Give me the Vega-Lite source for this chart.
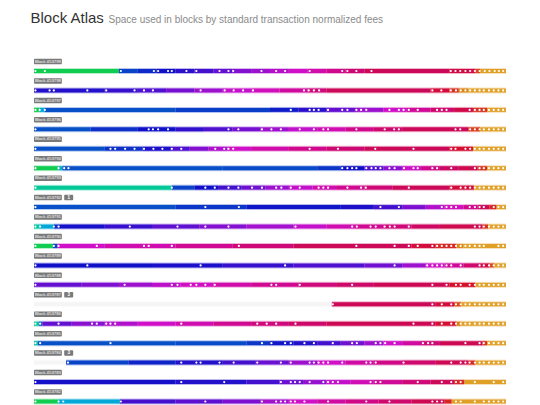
{
"$schema": "https://vega.github.io/schema/vega-lite/v6.json",
"width": 540, "height": 405, "autosize": "none", "padding": 0,
"background": "white",
"config": {"view": {"stroke": null}, "axis": {"labels": false, "ticks": false, "domain": false, "grid": false}},
"datasets": {
"labels": [
{"b":453799,"t":"Block 453799"},{"b":453798,"t":"Block 453798"},{"b":453797,"t":"Block 453797"},{"b":453796,"t":"Block 453796"},{"b":453795,"t":"Block 453795"},{"b":453794,"t":"Block 453794"},{"b":453793,"t":"Block 453793"},{"b":453792,"t":"Block 453792"},{"b":453791,"t":"Block 453791"},{"b":453790,"t":"Block 453790"},{"b":453789,"t":"Block 453789"},{"b":453788,"t":"Block 453788"},{"b":453787,"t":"Block 453787"},{"b":453786,"t":"Block 453786"},{"b":453785,"t":"Block 453785"},{"b":453784,"t":"Block 453784"},{"b":453783,"t":"Block 453783"},{"b":453782,"t":"Block 453782"}],
"badges": [{"b":453792,"k":"1"},{"b":453787,"k":"3"},{"b":453784,"k":"3"}],
"segs": [
{"b":453799,"x":0,"x2":180,"f":0},{"b":453799,"x":180,"x2":220,"f":3.2},{"b":453799,"x":220,"x2":260,"f":3.6},{"b":453799,"x":260,"x2":300,"f":4.0},{"b":453799,"x":300,"x2":340,"f":4.4},{"b":453799,"x":340,"x2":380,"f":4.8},{"b":453799,"x":380,"x2":420,"f":5.3},{"b":453799,"x":420,"x2":460,"f":5.8},{"b":453799,"x":460,"x2":500,"f":6.2},{"b":453799,"x":500,"x2":540,"f":6.6},{"b":453799,"x":540,"x2":580,"f":7.0},{"b":453799,"x":580,"x2":620,"f":7.5},{"b":453799,"x":620,"x2":660,"f":8.0},{"b":453799,"x":660,"x2":700,"f":8.5},{"b":453799,"x":700,"x2":880,"f":9.0},{"b":453799,"x":880,"x2":935,"f":9.4},{"b":453799,"x":935,"x2":945,"f":10.5},{"b":453799,"x":945,"x2":1000,"f":12},
{"b":453798,"x":0,"x2":150,"f":4.3},{"b":453798,"x":150,"x2":220,"f":4.6},{"b":453798,"x":220,"x2":280,"f":5.0},{"b":453798,"x":280,"x2":340,"f":5.6},{"b":453798,"x":340,"x2":400,"f":6.2},{"b":453798,"x":400,"x2":460,"f":6.8},{"b":453798,"x":460,"x2":520,"f":7.2},{"b":453798,"x":520,"x2":580,"f":7.7},{"b":453798,"x":580,"x2":620,"f":8.3},{"b":453798,"x":620,"x2":840,"f":9.0},{"b":453798,"x":840,"x2":880,"f":9.6},{"b":453798,"x":880,"x2":900,"f":10.3},{"b":453798,"x":900,"x2":920,"f":11.2},{"b":453798,"x":920,"x2":1000,"f":12},
{"b":453797,"x":0,"x2":12,"f":0},{"b":453797,"x":12,"x2":23,"f":2},{"b":453797,"x":23,"x2":300,"f":3.0},{"b":453797,"x":300,"x2":500,"f":3.3},{"b":453797,"x":500,"x2":560,"f":3.8},{"b":453797,"x":560,"x2":620,"f":4.4},{"b":453797,"x":620,"x2":680,"f":5.3},{"b":453797,"x":680,"x2":740,"f":6.2},{"b":453797,"x":740,"x2":790,"f":7.0},{"b":453797,"x":790,"x2":840,"f":7.8},{"b":453797,"x":840,"x2":890,"f":8.6},{"b":453797,"x":890,"x2":930,"f":9.3},{"b":453797,"x":930,"x2":960,"f":10.3},{"b":453797,"x":960,"x2":1000,"f":12},
{"b":453796,"x":0,"x2":120,"f":3.0},{"b":453796,"x":120,"x2":220,"f":3.5},{"b":453796,"x":220,"x2":300,"f":4.0},{"b":453796,"x":300,"x2":360,"f":4.5},{"b":453796,"x":360,"x2":420,"f":5.0},{"b":453796,"x":420,"x2":480,"f":5.6},{"b":453796,"x":480,"x2":540,"f":6.2},{"b":453796,"x":540,"x2":600,"f":6.8},{"b":453796,"x":600,"x2":660,"f":7.4},{"b":453796,"x":660,"x2":720,"f":8.0},{"b":453796,"x":720,"x2":780,"f":8.6},{"b":453796,"x":780,"x2":920,"f":9.0},{"b":453796,"x":920,"x2":945,"f":10.4},{"b":453796,"x":945,"x2":1000,"f":12},
{"b":453795,"x":0,"x2":150,"f":3.0},{"b":453795,"x":150,"x2":230,"f":3.5},{"b":453795,"x":230,"x2":290,"f":4.2},{"b":453795,"x":290,"x2":330,"f":5.0},{"b":453795,"x":330,"x2":370,"f":5.8},{"b":453795,"x":370,"x2":410,"f":6.5},{"b":453795,"x":410,"x2":460,"f":7.0},{"b":453795,"x":460,"x2":540,"f":7.5},{"b":453795,"x":540,"x2":620,"f":8.0},{"b":453795,"x":620,"x2":700,"f":8.5},{"b":453795,"x":700,"x2":880,"f":9.0},{"b":453795,"x":880,"x2":930,"f":9.8},{"b":453795,"x":930,"x2":1000,"f":12},
{"b":453794,"x":0,"x2":52,"f":0},{"b":453794,"x":52,"x2":60,"f":1.8},{"b":453794,"x":60,"x2":400,"f":3.0},{"b":453794,"x":400,"x2":600,"f":3.1},{"b":453794,"x":600,"x2":650,"f":3.4},{"b":453794,"x":650,"x2":700,"f":4.0},{"b":453794,"x":700,"x2":740,"f":5.0},{"b":453794,"x":740,"x2":780,"f":6.0},{"b":453794,"x":780,"x2":820,"f":7.0},{"b":453794,"x":820,"x2":860,"f":8.0},{"b":453794,"x":860,"x2":900,"f":8.8},{"b":453794,"x":900,"x2":940,"f":9.2},{"b":453794,"x":940,"x2":960,"f":10.3},{"b":453794,"x":960,"x2":1000,"f":12},
{"b":453793,"x":0,"x2":292,"f":0.9},{"b":453793,"x":292,"x2":340,"f":3.2},{"b":453793,"x":340,"x2":390,"f":4.0},{"b":453793,"x":390,"x2":440,"f":4.8},{"b":453793,"x":440,"x2":490,"f":5.5},{"b":453793,"x":490,"x2":540,"f":6.2},{"b":453793,"x":540,"x2":590,"f":6.8},{"b":453793,"x":590,"x2":640,"f":7.4},{"b":453793,"x":640,"x2":700,"f":7.9},{"b":453793,"x":700,"x2":760,"f":8.4},{"b":453793,"x":760,"x2":880,"f":9.0},{"b":453793,"x":880,"x2":932,"f":9.6},{"b":453793,"x":932,"x2":1000,"f":12},
{"b":453792,"x":0,"x2":300,"f":3.0},{"b":453792,"x":300,"x2":450,"f":3.4},{"b":453792,"x":450,"x2":650,"f":3.9},{"b":453792,"x":650,"x2":720,"f":4.2},{"b":453792,"x":720,"x2":780,"f":4.8},{"b":453792,"x":780,"x2":830,"f":5.7},{"b":453792,"x":830,"x2":870,"f":6.5},{"b":453792,"x":870,"x2":910,"f":7.2},{"b":453792,"x":910,"x2":940,"f":8.0},{"b":453792,"x":940,"x2":965,"f":9.0},{"b":453792,"x":965,"x2":980,"f":10.2},{"b":453792,"x":980,"x2":1000,"f":12},
{"b":453791,"x":0,"x2":12,"f":1},{"b":453791,"x":12,"x2":42,"f":2},{"b":453791,"x":42,"x2":55,"f":3.5},{"b":453791,"x":55,"x2":150,"f":4.1},{"b":453791,"x":150,"x2":250,"f":4.6},{"b":453791,"x":250,"x2":350,"f":5.2},{"b":453791,"x":350,"x2":450,"f":5.8},{"b":453791,"x":450,"x2":550,"f":6.3},{"b":453791,"x":550,"x2":620,"f":6.8},{"b":453791,"x":620,"x2":680,"f":7.4},{"b":453791,"x":680,"x2":740,"f":7.9},{"b":453791,"x":740,"x2":800,"f":8.3},{"b":453791,"x":800,"x2":860,"f":8.8},{"b":453791,"x":860,"x2":950,"f":9.2},{"b":453791,"x":950,"x2":962,"f":10.3},{"b":453791,"x":962,"x2":1000,"f":12},
{"b":453790,"x":0,"x2":40,"f":0},{"b":453790,"x":40,"x2":50,"f":3.2},{"b":453790,"x":50,"x2":150,"f":7.0},{"b":453790,"x":150,"x2":300,"f":7.4},{"b":453790,"x":300,"x2":420,"f":7.9},{"b":453790,"x":420,"x2":550,"f":8.4},{"b":453790,"x":550,"x2":800,"f":9.0},{"b":453790,"x":800,"x2":850,"f":9.6},{"b":453790,"x":850,"x2":895,"f":10.2},{"b":453790,"x":895,"x2":910,"f":11.2},{"b":453790,"x":910,"x2":1000,"f":12},
{"b":453789,"x":0,"x2":250,"f":4.0},{"b":453789,"x":250,"x2":400,"f":4.2},{"b":453789,"x":400,"x2":550,"f":4.6},{"b":453789,"x":550,"x2":700,"f":5.0},{"b":453789,"x":700,"x2":780,"f":5.5},{"b":453789,"x":780,"x2":830,"f":6.2},{"b":453789,"x":830,"x2":870,"f":7.0},{"b":453789,"x":870,"x2":910,"f":7.8},{"b":453789,"x":910,"x2":945,"f":8.6},{"b":453789,"x":945,"x2":965,"f":9.4},{"b":453789,"x":965,"x2":975,"f":10.5},{"b":453789,"x":975,"x2":1000,"f":12},
{"b":453788,"x":0,"x2":100,"f":5.3},{"b":453788,"x":100,"x2":180,"f":5.7},{"b":453788,"x":180,"x2":250,"f":6.2},{"b":453788,"x":250,"x2":310,"f":6.7},{"b":453788,"x":310,"x2":380,"f":7.1},{"b":453788,"x":380,"x2":460,"f":7.5},{"b":453788,"x":460,"x2":560,"f":7.9},{"b":453788,"x":560,"x2":640,"f":8.3},{"b":453788,"x":640,"x2":720,"f":8.7},{"b":453788,"x":720,"x2":880,"f":9.1},{"b":453788,"x":880,"x2":935,"f":10.0},{"b":453788,"x":935,"x2":1000,"f":12},
{"b":453787,"x":0,"x2":631,"f":-1},{"b":453787,"x":631,"x2":850,"f":9.0},{"b":453787,"x":850,"x2":890,"f":9.6},{"b":453787,"x":890,"x2":905,"f":10.5},{"b":453787,"x":905,"x2":1000,"f":12},
{"b":453786,"x":0,"x2":10,"f":0.8},{"b":453786,"x":10,"x2":18,"f":3},{"b":453786,"x":18,"x2":80,"f":5.3},{"b":453786,"x":80,"x2":150,"f":5.9},{"b":453786,"x":150,"x2":220,"f":6.5},{"b":453786,"x":220,"x2":300,"f":7.0},{"b":453786,"x":300,"x2":380,"f":7.4},{"b":453786,"x":380,"x2":460,"f":7.9},{"b":453786,"x":460,"x2":540,"f":8.3},{"b":453786,"x":540,"x2":620,"f":8.7},{"b":453786,"x":620,"x2":850,"f":9.1},{"b":453786,"x":850,"x2":895,"f":9.8},{"b":453786,"x":895,"x2":905,"f":11},{"b":453786,"x":905,"x2":1000,"f":12},
{"b":453785,"x":0,"x2":8,"f":1},{"b":453785,"x":8,"x2":300,"f":3.0},{"b":453785,"x":300,"x2":450,"f":3.1},{"b":453785,"x":450,"x2":500,"f":3.4},{"b":453785,"x":500,"x2":550,"f":3.9},{"b":453785,"x":550,"x2":600,"f":4.3},{"b":453785,"x":600,"x2":650,"f":4.8},{"b":453785,"x":650,"x2":700,"f":5.5},{"b":453785,"x":700,"x2":740,"f":6.2},{"b":453785,"x":740,"x2":780,"f":7.0},{"b":453785,"x":780,"x2":820,"f":7.7},{"b":453785,"x":820,"x2":860,"f":8.4},{"b":453785,"x":860,"x2":950,"f":9.1},{"b":453785,"x":950,"x2":960,"f":10.3},{"b":453785,"x":960,"x2":1000,"f":12},
{"b":453784,"x":0,"x2":68,"f":-1},{"b":453784,"x":68,"x2":200,"f":3.2},{"b":453784,"x":200,"x2":300,"f":3.7},{"b":453784,"x":300,"x2":400,"f":4.3},{"b":453784,"x":400,"x2":470,"f":4.8},{"b":453784,"x":470,"x2":540,"f":5.4},{"b":453784,"x":540,"x2":600,"f":6.2},{"b":453784,"x":600,"x2":660,"f":7.0},{"b":453784,"x":660,"x2":720,"f":7.6},{"b":453784,"x":720,"x2":780,"f":8.1},{"b":453784,"x":780,"x2":850,"f":8.6},{"b":453784,"x":850,"x2":920,"f":9.1},{"b":453784,"x":920,"x2":935,"f":10.2},{"b":453784,"x":935,"x2":1000,"f":12},
{"b":453783,"x":0,"x2":300,"f":4.1},{"b":453783,"x":300,"x2":450,"f":4.3},{"b":453783,"x":450,"x2":520,"f":4.8},{"b":453783,"x":520,"x2":570,"f":5.4},{"b":453783,"x":570,"x2":620,"f":6.1},{"b":453783,"x":620,"x2":670,"f":6.8},{"b":453783,"x":670,"x2":720,"f":7.3},{"b":453783,"x":720,"x2":780,"f":7.8},{"b":453783,"x":780,"x2":840,"f":8.4},{"b":453783,"x":840,"x2":890,"f":9.0},{"b":453783,"x":890,"x2":912,"f":10.2},{"b":453783,"x":912,"x2":1000,"f":12},
{"b":453782,"x":0,"x2":52,"f":0},{"b":453782,"x":52,"x2":182,"f":2},{"b":453782,"x":182,"x2":300,"f":4.8},{"b":453782,"x":300,"x2":400,"f":5.2},{"b":453782,"x":400,"x2":480,"f":5.7},{"b":453782,"x":480,"x2":540,"f":6.3},{"b":453782,"x":540,"x2":600,"f":7.0},{"b":453782,"x":600,"x2":660,"f":7.6},{"b":453782,"x":660,"x2":730,"f":8.1},{"b":453782,"x":730,"x2":800,"f":8.6},{"b":453782,"x":800,"x2":870,"f":9.1},{"b":453782,"x":870,"x2":885,"f":10.2},{"b":453782,"x":885,"x2":1000,"f":12}
],
"dots": [
{"b":453799,"x":3},{"b":453799,"x":23},{"b":453799,"x":184},{"b":453799,"x":254},{"b":453799,"x":263},{"b":453799,"x":284},{"b":453799,"x":292},{"b":453799,"x":323},{"b":453799,"x":344},{"b":453799,"x":393},{"b":453799,"x":412},{"b":453799,"x":422},{"b":453799,"x":482},{"b":453799,"x":513},{"b":453799,"x":532},{"b":453799,"x":584},{"b":453799,"x":653},{"b":453799,"x":664},{"b":453799,"x":683},{"b":453799,"x":715},{"b":453799,"x":883},{"b":453799,"x":893},{"b":453799,"x":903},{"b":453799,"x":914},{"b":453799,"x":924},{"b":453799,"x":934},{"b":453799,"x":944},{"b":453799,"x":955},{"b":453799,"x":965},{"b":453799,"x":976},{"b":453799,"x":985},{"b":453799,"x":994},
{"b":453798,"x":3},{"b":453798,"x":33},{"b":453798,"x":42},{"b":453798,"x":113},{"b":453798,"x":153},{"b":453798,"x":213},{"b":453798,"x":233},{"b":453798,"x":252},{"b":453798,"x":353},{"b":453798,"x":404},{"b":453798,"x":423},{"b":453798,"x":443},{"b":453798,"x":464},{"b":453798,"x":572},{"b":453798,"x":582},{"b":453798,"x":593},{"b":453798,"x":604},{"b":453798,"x":844},{"b":453798,"x":863},{"b":453798,"x":883},{"b":453798,"x":894},{"b":453798,"x":904},{"b":453798,"x":914},{"b":453798,"x":924},{"b":453798,"x":934},{"b":453798,"x":944},{"b":453798,"x":953},{"b":453798,"x":964},{"b":453798,"x":974},{"b":453798,"x":984},{"b":453798,"x":994},
{"b":453797,"x":3},{"b":453797,"x":12},{"b":453797,"x":23},{"b":453797,"x":544},{"b":453797,"x":584},{"b":453797,"x":593},{"b":453797,"x":603},{"b":453797,"x":623},{"b":453797,"x":653},{"b":453797,"x":664},{"b":453797,"x":683},{"b":453797,"x":693},{"b":453797,"x":704},{"b":453797,"x":753},{"b":453797,"x":773},{"b":453797,"x":783},{"b":453797,"x":794},{"b":453797,"x":813},{"b":453797,"x":854},{"b":453797,"x":864},{"b":453797,"x":874},{"b":453797,"x":923},{"b":453797,"x":934},{"b":453797,"x":944},{"b":453797,"x":953},{"b":453797,"x":964},{"b":453797,"x":974},{"b":453797,"x":984},{"b":453797,"x":994},
{"b":453796,"x":3},{"b":453796,"x":243},{"b":453796,"x":252},{"b":453796,"x":263},{"b":453796,"x":284},{"b":453796,"x":412},{"b":453796,"x":433},{"b":453796,"x":483},{"b":453796,"x":503},{"b":453796,"x":523},{"b":453796,"x":563},{"b":453796,"x":593},{"b":453796,"x":613},{"b":453796,"x":623},{"b":453796,"x":683},{"b":453796,"x":743},{"b":453796,"x":763},{"b":453796,"x":773},{"b":453796,"x":893},{"b":453796,"x":903},{"b":453796,"x":924},{"b":453796,"x":934},{"b":453796,"x":944},{"b":453796,"x":953},{"b":453796,"x":964},{"b":453796,"x":974},{"b":453796,"x":984},{"b":453796,"x":994},
{"b":453795,"x":3},{"b":453795,"x":162},{"b":453795,"x":172},{"b":453795,"x":193},{"b":453795,"x":213},{"b":453795,"x":233},{"b":453795,"x":253},{"b":453795,"x":272},{"b":453795,"x":292},{"b":453795,"x":312},{"b":453795,"x":384},{"b":453795,"x":403},{"b":453795,"x":412},{"b":453795,"x":422},{"b":453795,"x":584},{"b":453795,"x":644},{"b":453795,"x":723},{"b":453795,"x":804},{"b":453795,"x":884},{"b":453795,"x":893},{"b":453795,"x":914},{"b":453795,"x":924},{"b":453795,"x":934},{"b":453795,"x":944},{"b":453795,"x":953},{"b":453795,"x":964},{"b":453795,"x":974},{"b":453795,"x":984},{"b":453795,"x":994},
{"b":453794,"x":3},{"b":453794,"x":52},{"b":453794,"x":64},{"b":453794,"x":73},{"b":453794,"x":653},{"b":453794,"x":664},{"b":453794,"x":674},{"b":453794,"x":683},{"b":453794,"x":704},{"b":453794,"x":715},{"b":453794,"x":724},{"b":453794,"x":734},{"b":453794,"x":753},{"b":453794,"x":764},{"b":453794,"x":784},{"b":453794,"x":804},{"b":453794,"x":813},{"b":453794,"x":844},{"b":453794,"x":854},{"b":453794,"x":884},{"b":453794,"x":934},{"b":453794,"x":944},{"b":453794,"x":953},{"b":453794,"x":964},{"b":453794,"x":974},{"b":453794,"x":984},{"b":453794,"x":994},
{"b":453793,"x":3},{"b":453793,"x":292},{"b":453793,"x":363},{"b":453793,"x":383},{"b":453793,"x":412},{"b":453793,"x":433},{"b":453793,"x":462},{"b":453793,"x":483},{"b":453793,"x":513},{"b":453793,"x":524},{"b":453793,"x":544},{"b":453793,"x":563},{"b":453793,"x":603},{"b":453793,"x":613},{"b":453793,"x":623},{"b":453793,"x":664},{"b":453793,"x":693},{"b":453793,"x":703},{"b":453793,"x":794},{"b":453793,"x":884},{"b":453793,"x":904},{"b":453793,"x":914},{"b":453793,"x":924},{"b":453793,"x":934},{"b":453793,"x":944},{"b":453793,"x":953},{"b":453793,"x":964},{"b":453793,"x":974},{"b":453793,"x":984},{"b":453793,"x":994},
{"b":453792,"x":3},{"b":453792,"x":363},{"b":453792,"x":434},{"b":453792,"x":734},{"b":453792,"x":773},{"b":453792,"x":864},{"b":453792,"x":874},{"b":453792,"x":884},{"b":453792,"x":894},{"b":453792,"x":923},{"b":453792,"x":934},{"b":453792,"x":944},{"b":453792,"x":953},{"b":453792,"x":974},{"b":453792,"x":984},{"b":453792,"x":994},
{"b":453791,"x":3},{"b":453791,"x":13},{"b":453791,"x":42},{"b":453791,"x":52},{"b":453791,"x":203},{"b":453791,"x":304},{"b":453791,"x":363},{"b":453791,"x":412},{"b":453791,"x":554},{"b":453791,"x":674},{"b":453791,"x":684},{"b":453791,"x":713},{"b":453791,"x":724},{"b":453791,"x":743},{"b":453791,"x":754},{"b":453791,"x":764},{"b":453791,"x":794},{"b":453791,"x":934},{"b":453791,"x":944},{"b":453791,"x":953},{"b":453791,"x":964},{"b":453791,"x":974},{"b":453791,"x":984},{"b":453791,"x":994},
{"b":453790,"x":3},{"b":453790,"x":42},{"b":453790,"x":52},{"b":453790,"x":133},{"b":453790,"x":233},{"b":453790,"x":243},{"b":453790,"x":292},{"b":453790,"x":434},{"b":453790,"x":683},{"b":453790,"x":764},{"b":453790,"x":794},{"b":453790,"x":813},{"b":453790,"x":844},{"b":453790,"x":854},{"b":453790,"x":864},{"b":453790,"x":874},{"b":453790,"x":884},{"b":453790,"x":894},{"b":453790,"x":904},{"b":453790,"x":914},{"b":453790,"x":923},{"b":453790,"x":934},{"b":453790,"x":944},{"b":453790,"x":953},{"b":453790,"x":984},{"b":453790,"x":994},
{"b":453789,"x":3},{"b":453789,"x":113},{"b":453789,"x":353},{"b":453789,"x":532},{"b":453789,"x":764},{"b":453789,"x":833},{"b":453789,"x":844},{"b":453789,"x":854},{"b":453789,"x":864},{"b":453789,"x":874},{"b":453789,"x":884},{"b":453789,"x":904},{"b":453789,"x":944},{"b":453789,"x":953},{"b":453789,"x":964},{"b":453789,"x":974},{"b":453789,"x":984},{"b":453789,"x":994},
{"b":453788,"x":3},{"b":453788,"x":192},{"b":453788,"x":292},{"b":453788,"x":304},{"b":453788,"x":332},{"b":453788,"x":344},{"b":453788,"x":363},{"b":453788,"x":383},{"b":453788,"x":503},{"b":453788,"x":513},{"b":453788,"x":563},{"b":453788,"x":674},{"b":453788,"x":844},{"b":453788,"x":874},{"b":453788,"x":894},{"b":453788,"x":904},{"b":453788,"x":923},{"b":453788,"x":934},{"b":453788,"x":944},{"b":453788,"x":953},{"b":453788,"x":964},{"b":453788,"x":974},{"b":453788,"x":984},{"b":453788,"x":994},
{"b":453787,"x":633},{"b":453787,"x":844},{"b":453787,"x":864},{"b":453787,"x":884},{"b":453787,"x":894},{"b":453787,"x":904},{"b":453787,"x":914},{"b":453787,"x":923},{"b":453787,"x":934},{"b":453787,"x":944},{"b":453787,"x":953},{"b":453787,"x":964},{"b":453787,"x":974},{"b":453787,"x":984},{"b":453787,"x":994},
{"b":453786,"x":3},{"b":453786,"x":13},{"b":453786,"x":52},{"b":453786,"x":123},{"b":453786,"x":133},{"b":453786,"x":153},{"b":453786,"x":162},{"b":453786,"x":172},{"b":453786,"x":312},{"b":453786,"x":473},{"b":453786,"x":493},{"b":453786,"x":513},{"b":453786,"x":554},{"b":453786,"x":804},{"b":453786,"x":844},{"b":453786,"x":864},{"b":453786,"x":884},{"b":453786,"x":894},{"b":453786,"x":904},{"b":453786,"x":914},{"b":453786,"x":923},{"b":453786,"x":934},{"b":453786,"x":944},{"b":453786,"x":953},{"b":453786,"x":964},{"b":453786,"x":974},{"b":453786,"x":984},{"b":453786,"x":994},
{"b":453785,"x":3},{"b":453785,"x":13},{"b":453785,"x":162},{"b":453785,"x":483},{"b":453785,"x":503},{"b":453785,"x":532},{"b":453785,"x":544},{"b":453785,"x":573},{"b":453785,"x":593},{"b":453785,"x":633},{"b":453785,"x":674},{"b":453785,"x":684},{"b":453785,"x":724},{"b":453785,"x":734},{"b":453785,"x":744},{"b":453785,"x":764},{"b":453785,"x":824},{"b":453785,"x":835},{"b":453785,"x":844},{"b":453785,"x":914},{"b":453785,"x":944},{"b":453785,"x":953},{"b":453785,"x":964},{"b":453785,"x":974},{"b":453785,"x":984},{"b":453785,"x":994},
{"b":453784,"x":72},{"b":453784,"x":312},{"b":453784,"x":344},{"b":453784,"x":353},{"b":453784,"x":393},{"b":453784,"x":423},{"b":453784,"x":473},{"b":453784,"x":523},{"b":453784,"x":544},{"b":453784,"x":584},{"b":453784,"x":593},{"b":453784,"x":603},{"b":453784,"x":613},{"b":453784,"x":623},{"b":453784,"x":653},{"b":453784,"x":704},{"b":453784,"x":713},{"b":453784,"x":724},{"b":453784,"x":783},{"b":453784,"x":884},{"b":453784,"x":904},{"b":453784,"x":914},{"b":453784,"x":923},{"b":453784,"x":934},{"b":453784,"x":944},{"b":453784,"x":953},{"b":453784,"x":964},{"b":453784,"x":974},{"b":453784,"x":984},{"b":453784,"x":994},
{"b":453783,"x":3},{"b":453783,"x":312},{"b":453783,"x":403},{"b":453783,"x":523},{"b":453783,"x":544},{"b":453783,"x":553},{"b":453783,"x":563},{"b":453783,"x":584},{"b":453783,"x":613},{"b":453783,"x":623},{"b":453783,"x":633},{"b":453783,"x":644},{"b":453783,"x":713},{"b":453783,"x":724},{"b":453783,"x":734},{"b":453783,"x":813},{"b":453783,"x":864},{"b":453783,"x":884},{"b":453783,"x":894},{"b":453783,"x":904},{"b":453783,"x":934},{"b":453783,"x":974},{"b":453783,"x":994},
{"b":453782,"x":3},{"b":453782,"x":52},{"b":453782,"x":62},{"b":453782,"x":184},{"b":453782,"x":363},{"b":453782,"x":483},{"b":453782,"x":513},{"b":453782,"x":523},{"b":453782,"x":532},{"b":453782,"x":544},{"b":453782,"x":553},{"b":453782,"x":573},{"b":453782,"x":623},{"b":453782,"x":704},{"b":453782,"x":753},{"b":453782,"x":844},{"b":453782,"x":854},{"b":453782,"x":864},{"b":453782,"x":894},{"b":453782,"x":904},{"b":453782,"x":934},{"b":453782,"x":953},{"b":453782,"x":964},{"b":453782,"x":974},{"b":453782,"x":984},{"b":453782,"x":994}
]
},
"layer": [
{"data": {"name": "segs"},
 "mark": {"type": "bar", "orient": "horizontal", "size": 6, "opacity": 0.3},
 "encoding": {
  "x": {"field": "x", "type": "quantitative", "scale": {"domain": [0, 1000], "range": [34, 506], "nice": false, "zero": false, "padding": 0},
        "axis": {"orient": "top", "title": "Block Atlas", "titleX": 30, "titleY": 22, "titleAlign": "left", "titleBaseline": "alphabetic", "titleFontSize": 15, "titleFontWeight": "normal", "titleColor": "#333333", "titleFont": "Liberation Sans"}},
  "x2": {"field": "x2"},
  "y": {"field": "b", "type": "quantitative", "scale": {"domain": [453782, 453799], "range": [401.5, 71], "nice": false, "zero": false, "padding": 0},
        "axis": {"orient": "left", "title": "Space used in blocks by standard transaction normalized fees", "titleX": 108, "titleY": 22, "titleAngle": 0, "titleAlign": "left", "titleBaseline": "alphabetic", "titleFontSize": 10, "titleFontWeight": "normal", "titleColor": "#8a8a8a", "titleFont": "Liberation Sans"}},
  "color": {"field": "f", "type": "quantitative", "legend": null,
   "scale": {"domain": [-1,0,1,2,3,4,5,6,7,8,9,10,11,12], "range": ["#f5f5f5","#10cc50","#00c8a0","#00a8d8","#0850c8","#1010c8","#5010d0","#9010d0","#d010c8","#d0088c","#cc0858","#d81028","#d88010","#e0a028"], "interpolate": "rgb"}}
 }},
{"data": {"name": "segs"},
 "mark": {"type": "bar", "orient": "horizontal", "size": 4},
 "encoding": {
  "x": {"field": "x", "type": "quantitative"},
  "x2": {"field": "x2"},
  "y": {"field": "b", "type": "quantitative"},
  "color": {"field": "f", "type": "quantitative", "legend": null}
 }},
{"data": {"name": "dots"},
 "mark": {"type": "point", "shape": "circle", "filled": true, "size": 5, "color": "white", "opacity": 1},
 "encoding": {
  "x": {"field": "x", "type": "quantitative"},
  "y": {"field": "b", "type": "quantitative"}
 }},
{"data": {"name": "labels"},
 "mark": {"type": "bar", "orient": "horizontal", "size": 5.5, "yOffset": -9.5, "color": "#7a7a7a", "cornerRadius": 1},
 "encoding": {
  "x": {"datum": 0, "type": "quantitative"},
  "x2": {"datum": 59},
  "y": {"field": "b", "type": "quantitative"}
 }},
{"data": {"name": "labels"},
 "mark": {"type": "text", "yOffset": -9.3, "color": "white", "fontSize": 4.3, "font": "Liberation Sans", "align": "center", "baseline": "middle"},
 "encoding": {
  "x": {"datum": 29.5, "type": "quantitative"},
  "y": {"field": "b", "type": "quantitative"},
  "text": {"field": "t"}
 }},
{"data": {"name": "badges"},
 "mark": {"type": "bar", "orient": "horizontal", "size": 5.5, "yOffset": -9.5, "color": "#7a7a7a", "cornerRadius": 1},
 "encoding": {
  "x": {"datum": 64, "type": "quantitative"},
  "x2": {"datum": 83},
  "y": {"field": "b", "type": "quantitative"}
 }},
{"data": {"name": "badges"},
 "mark": {"type": "text", "yOffset": -9.3, "color": "white", "fontSize": 4.5, "font": "Liberation Sans", "fontWeight": "bold", "align": "center", "baseline": "middle"},
 "encoding": {
  "x": {"datum": 73.5, "type": "quantitative"},
  "y": {"field": "b", "type": "quantitative"},
  "text": {"field": "k"}
 }}
]
}
